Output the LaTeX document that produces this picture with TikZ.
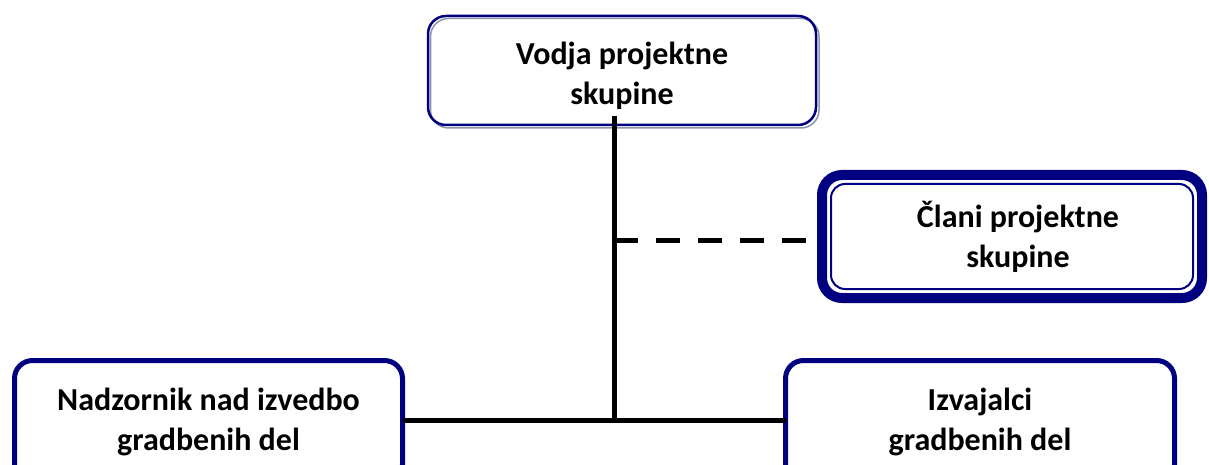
\documentclass[tikz,border=0pt]{standalone}
\usepackage{fontspec}
\setmainfont{Carlito}
\definecolor{navy}{RGB}{0,0,128}
\definecolor{shadowgrey}{RGB}{140,150,170}
\tikzset{
  box/.style={draw=navy, fill=white, rounded corners=18pt, align=center,
    font=\fontsize{32}{40}\selectfont\bfseries, inner sep=0pt, outer sep=0pt},
  conn/.style={line width=5pt, black},
  dashconn/.style={line width=5pt, black, dash pattern=on 24pt off 18pt},
}
\begin{document}
\begin{tikzpicture}[x=1pt,y=-1pt]
\useasboundingbox (0,0) rectangle (1209,465);
% top box
\draw[shadowgrey, line width=1.5pt, rounded corners=18pt] (430.5,18.5) rectangle (819,128);
\node[box, line width=2.5pt, minimum width=388pt, minimum height=109pt, fill=none] (lead) at (622,70.5) {\rule{0pt}{33pt}Vodja projektne\\skupine};
% right box
\node[box, line width=10pt, minimum width=380pt, minimum height=123pt, rounded corners=20pt] (members) at (1012,236.5) {\hspace{12pt}Člani projektne\\\hspace{12pt}skupine};
\draw[navy, line width=2pt, rounded corners=14pt] ([shift={(9,9)}]members.north west) rectangle ([shift={(-9,-9)}]members.south east);
% bottom boxes
\node[box, line width=5pt, minimum width=388pt, minimum height=122pt] (super) at (208.5,421.5) {Nadzornik nad izvedbo\\gradbenih del};
\node[box, line width=5pt, minimum width=389pt, minimum height=122pt] (contr) at (980,421.5) {Izvajalci\\gradbenih del};
% connectors
\coordinate (top) at (614,116);
\coordinate (joint) at (614,420);
\coordinate (dashstart) at (614,240);
\draw[conn] (top) -- (joint);
\draw[conn] (super.east |- joint) -- (contr.west |- joint);
\draw[dashconn] (dashstart) -- (members.west |- dashstart);
\end{tikzpicture}
\end{document}
